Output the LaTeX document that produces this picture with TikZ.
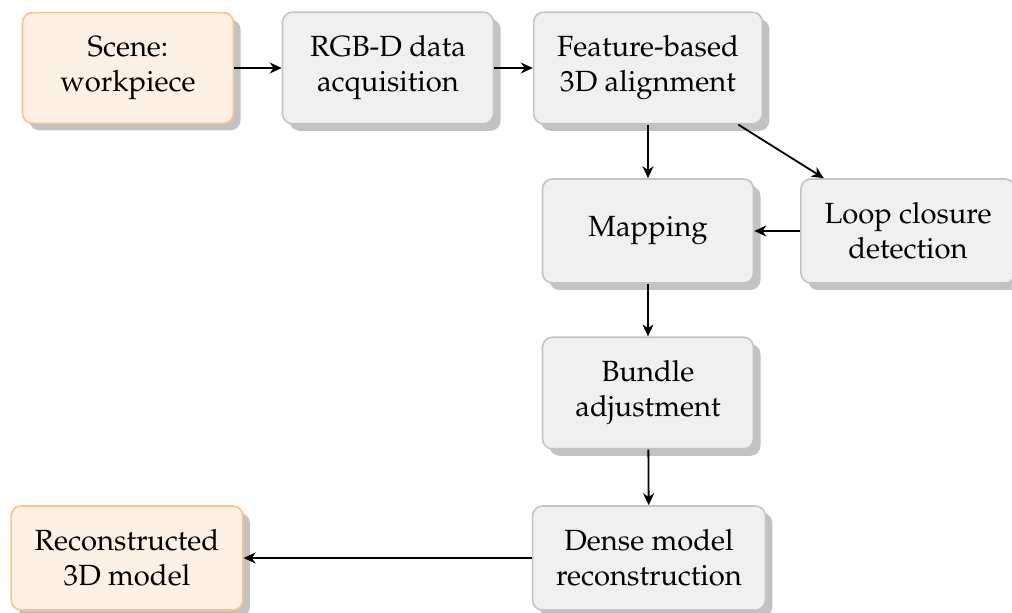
\documentclass[tikz,border=0pt]{standalone}
\usepackage[T1]{fontenc}
\usepackage{mathpazo}
\usetikzlibrary{arrows.meta,shadows}
\definecolor{boxfill}{HTML}{F0F0F0}
\definecolor{boxline}{HTML}{C4C4C4}
\definecolor{endfill}{HTML}{FDF0E4}
\definecolor{endline}{HTML}{FBC28A}
\definecolor{shadowgray}{HTML}{C2C2C2}
\tikzset{
  stage/.style={draw=boxline, fill=boxfill, line width=0.8pt, rounded corners=5pt,
    minimum width=105.5pt, minimum height=52pt, align=center, inner sep=11.8pt,
    font=\fontsize{14.6}{17.5}\selectfont,
    drop shadow={shadow xshift=3.5pt, shadow yshift=-3.5pt, fill=shadowgray, opacity=1}},
  endstage/.style={stage, draw=endline, fill=endfill},
  flow/.style={-{Stealth[length=6pt,width=5.5pt]}, line width=0.9pt, black}
}
\begin{document}
\begin{tikzpicture}[x=0.5pt, y=-0.5pt]
\useasboundingbox (0,0) rectangle (1012,613);
\node[endstage] (scene) at (128,68) {Scene:\\workpiece};
\node[stage] (rgbd) at (388,68) {RGB-D data\\acquisition};
\node[stage] (feat) at (648,68) {Feature-based\\3D alignment};
\node[stage] (map) at (648,231) {Mapping};
\node[stage] (loop) at (908,231) {Loop closure\\detection};
\node[stage] (ba) at (648,393) {Bundle\\adjustment};
\node[stage] (dense) at (649,558) {Dense model\\reconstruction};
\node[endstage] (recon) at (127,558) {Reconstructed\\3D model};
\draw[flow] (scene) -- (rgbd);
\draw[flow] (rgbd) -- (feat);
\draw[flow] (feat) -- (map);
\draw[flow] (feat) -- (loop);
\draw[flow] (loop) -- (map);
\draw[flow] (map) -- (ba);
\draw[flow] (ba) -- (dense);
\draw[flow] (dense) -- (recon);
\end{tikzpicture}
\end{document}
